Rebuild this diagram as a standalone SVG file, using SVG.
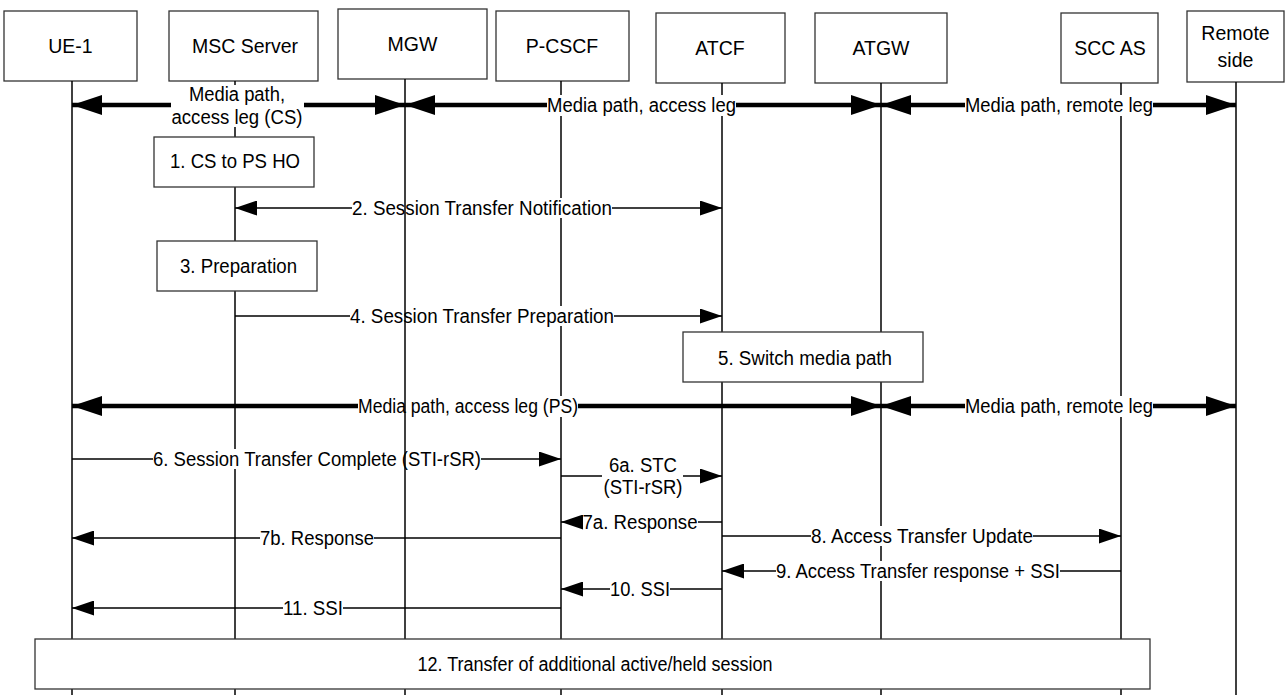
<svg xmlns="http://www.w3.org/2000/svg" width="1286" height="695" viewBox="0 0 1286 695">
<style>
.box{fill:#fff;stroke:#333;stroke-width:1.3}
.life{stroke:#000;stroke-width:1.5;fill:none}
.msg{stroke:#000;stroke-width:1.3;fill:none}
.thick{stroke:#000;stroke-width:4.5;fill:none}
.bg{fill:#fff;stroke:none}
text{font-family:"Liberation Sans",Arial,sans-serif;font-size:19.5px;fill:#000;text-anchor:middle}
</style>
<defs>
<marker id="ah" markerUnits="userSpaceOnUse" markerWidth="22" markerHeight="15" refX="22" refY="7.5" orient="auto-start-reverse"><path d="M0,0 L22,7.5 L0,15 z" fill="#000"/></marker>
<marker id="big" markerUnits="userSpaceOnUse" markerWidth="30" markerHeight="20" refX="30" refY="10" orient="auto-start-reverse"><path d="M0,0 L30,10 L0,20 z" fill="#000"/></marker>
</defs>
<rect width="1286" height="695" fill="#fff"/>

<g id="ue1"><rect class="box" x="4" y="11" width="133" height="70"/><text x="70.5" y="53">UE-1</text><line class="life" x1="72" y1="81" x2="72" y2="695"/></g>
<g id="msc"><rect class="box" x="169" y="11" width="149" height="70"/><text x="245" y="53">MSC Server</text><line class="life" x1="235" y1="81" x2="235" y2="695"/></g>
<g id="pcscf"><rect class="box" x="496" y="11" width="133" height="70"/><text x="562" y="53">P-CSCF</text><line class="life" x1="561" y1="81" x2="561" y2="695"/></g>
<g id="atcf"><rect class="box" x="656" y="13" width="129" height="70"/><text x="720" y="55">ATCF</text><line class="life" x1="722" y1="83" x2="722" y2="695"/></g>
<g id="atgw"><rect class="box" x="815" y="13" width="132" height="70"/><text x="881" y="55">ATGW</text><line class="life" x1="881" y1="83" x2="881" y2="695"/></g>
<g id="sccas"><rect class="box" x="1061" y="13" width="97" height="70"/><text x="1110" y="54.5">SCC AS</text><line class="life" x1="1121" y1="83" x2="1121" y2="695"/></g>
<g id="remote"><rect class="box" x="1187" y="11" width="97" height="71"/><text x="1235.5" y="40">Remote</text><text x="1235.5" y="67">side</text><line class="life" x1="1236" y1="82" x2="1236" y2="695"/></g>

<g id="connectors">
<line class="thick" x1="72" y1="105" x2="405" y2="105" marker-start="url(#big)" marker-end="url(#big)"/>
<line class="thick" x1="405" y1="105" x2="881" y2="105" marker-start="url(#big)" marker-end="url(#big)"/>
<line class="thick" x1="881" y1="105" x2="1236" y2="105" marker-start="url(#big)" marker-end="url(#big)"/>
<line class="msg" x1="235" y1="208" x2="722" y2="208" marker-start="url(#ah)" marker-end="url(#ah)"/>
<line class="msg" x1="235" y1="316" x2="722" y2="316" marker-end="url(#ah)"/>
<line class="thick" x1="72" y1="406" x2="881" y2="406" marker-start="url(#big)" marker-end="url(#big)"/>
<line class="thick" x1="881" y1="406" x2="1236" y2="406" marker-start="url(#big)" marker-end="url(#big)"/>
<line class="msg" x1="72" y1="459" x2="561" y2="459" marker-end="url(#ah)"/>
<line class="msg" x1="561" y1="476" x2="722" y2="476" marker-end="url(#ah)"/>
<line class="msg" x1="722" y1="522" x2="561" y2="522" marker-end="url(#ah)"/>
<line class="msg" x1="561" y1="538" x2="72" y2="538" marker-end="url(#ah)"/>
<line class="msg" x1="722" y1="536" x2="1121" y2="536" marker-end="url(#ah)"/>
<line class="msg" x1="1121" y1="571" x2="722" y2="571" marker-end="url(#ah)"/>
<line class="msg" x1="722" y1="589" x2="561" y2="589" marker-end="url(#ah)"/>
<line class="msg" x1="561" y1="608" x2="72" y2="608" marker-end="url(#ah)"/>

<rect class="bg" x="171" y="85" width="133" height="42"/>
<text x="237" y="100.5" textLength="96" lengthAdjust="spacingAndGlyphs">Media path,</text><text x="237" y="123.5" textLength="131" lengthAdjust="spacingAndGlyphs">access leg (CS)</text>
<rect class="bg" x="547" y="95" width="189" height="21"/>
<text x="641.5" y="112" textLength="189" lengthAdjust="spacingAndGlyphs">Media path, access leg</text>
<rect class="bg" x="965" y="95" width="188" height="21"/>
<text x="1059" y="112" textLength="188" lengthAdjust="spacingAndGlyphs">Media path, remote leg</text>
<rect class="bg" x="352" y="198" width="260" height="20"/>
<text x="482" y="215" textLength="260" lengthAdjust="spacingAndGlyphs">2. Session Transfer Notification</text>
<rect class="bg" x="350" y="306" width="264" height="20"/>
<text x="482" y="323" textLength="264" lengthAdjust="spacingAndGlyphs">4. Session Transfer Preparation</text>
<rect class="bg" x="358" y="396" width="220" height="21"/>
<text x="468" y="413" textLength="220" lengthAdjust="spacingAndGlyphs">Media path, access leg (PS)</text>
<rect class="bg" x="965" y="396" width="188" height="21"/>
<text x="1059" y="413" textLength="188" lengthAdjust="spacingAndGlyphs">Media path, remote leg</text>
<rect class="bg" x="153" y="449" width="328" height="20"/>
<text x="317" y="466" textLength="328" lengthAdjust="spacingAndGlyphs">6. Session Transfer Complete (STI-rSR)</text>
<rect class="bg" x="602" y="454" width="81" height="44"/>
<text x="643" y="472" textLength="68" lengthAdjust="spacingAndGlyphs">6a. STC</text><text x="643" y="494" textLength="79" lengthAdjust="spacingAndGlyphs">(STI-rSR)</text>
<rect class="bg" x="583" y="512" width="115" height="20"/>
<text x="640" y="529" textLength="115" lengthAdjust="spacingAndGlyphs">7a. Response</text>
<rect class="bg" x="260" y="528" width="114" height="20"/>
<text x="317" y="545" textLength="114" lengthAdjust="spacingAndGlyphs">7b. Response</text>
<rect class="bg" x="811" y="526" width="222" height="20"/>
<text x="922" y="543" textLength="222" lengthAdjust="spacingAndGlyphs">8. Access Transfer Update</text>
<rect class="bg" x="776" y="561" width="284" height="20"/>
<text x="918" y="578" textLength="284" lengthAdjust="spacingAndGlyphs">9. Access Transfer response + SSI</text>
<rect class="bg" x="610" y="579" width="60" height="20"/>
<text x="640" y="596" textLength="60" lengthAdjust="spacingAndGlyphs">10. SSI</text>
<rect class="bg" x="283" y="598" width="60" height="20"/>
<text x="313" y="615" textLength="60" lengthAdjust="spacingAndGlyphs">11. SSI</text>
</g>

<g id="mgw"><rect class="box" x="338" y="9" width="149" height="70"/><text x="412.5" y="51">MGW</text><line class="life" x1="405" y1="79" x2="405" y2="695"/></g>

<g id="step1"><rect class="box" x="154" y="137" width="160" height="50"/><text x="235" y="168" textLength="130" lengthAdjust="spacingAndGlyphs">1. CS to PS HO</text></g>
<g id="step3"><rect class="box" x="157" y="241" width="160" height="50"/><text x="238.5" y="273" textLength="117" lengthAdjust="spacingAndGlyphs">3. Preparation</text></g>
<g id="step5"><rect class="box" x="683" y="332" width="240" height="50"/><text x="805" y="365" textLength="174" lengthAdjust="spacingAndGlyphs">5. Switch media path</text></g>
<g id="step12"><rect class="box" x="35" y="639" width="1115" height="50"/><text x="595" y="671" textLength="355" lengthAdjust="spacingAndGlyphs">12. Transfer of additional active/held session</text></g>
</svg>
